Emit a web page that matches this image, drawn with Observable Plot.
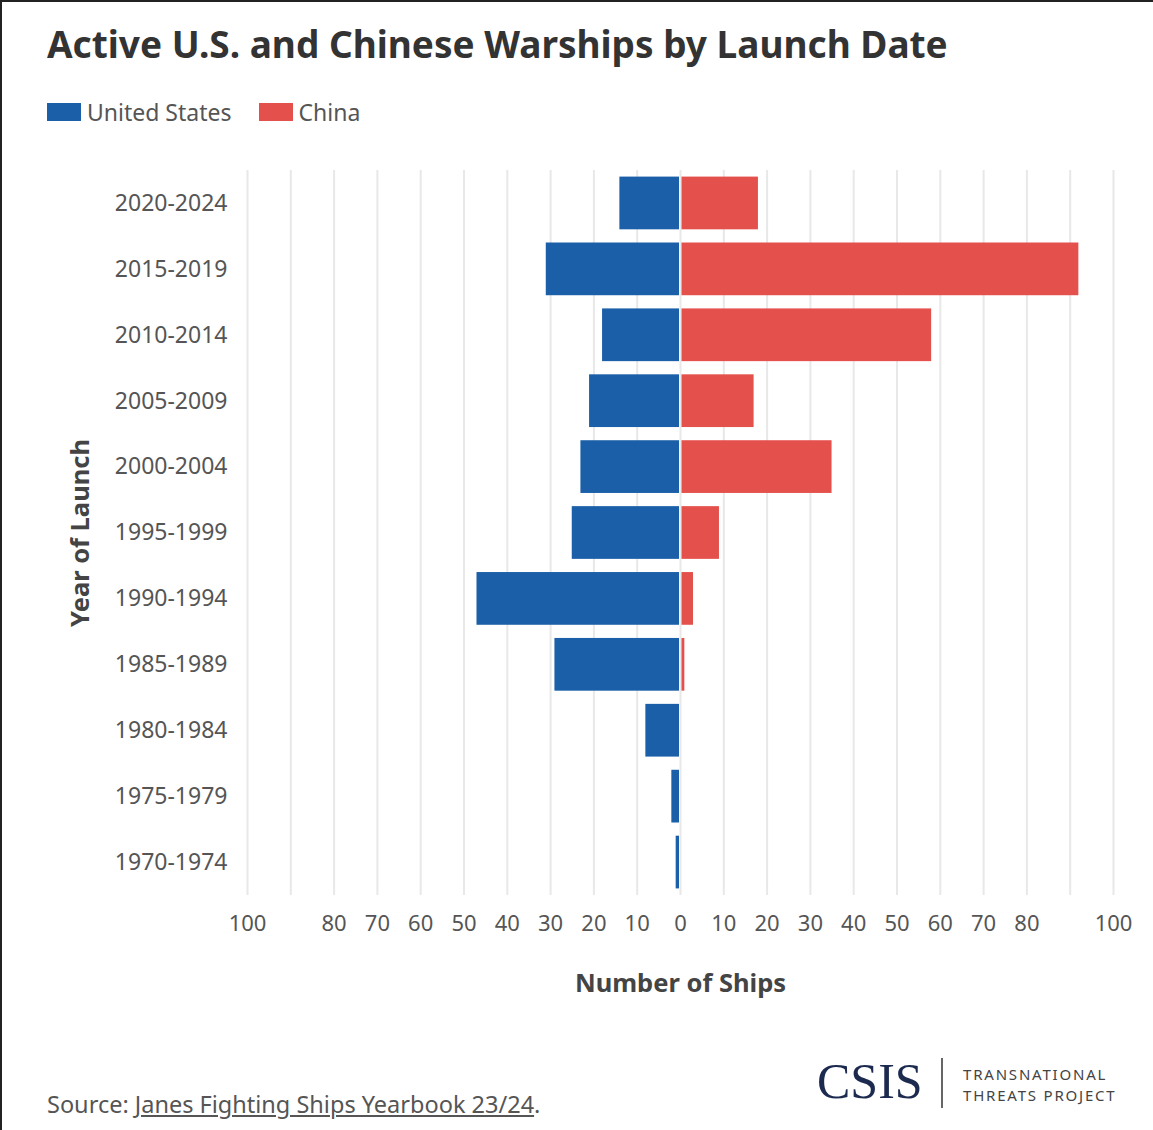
<!DOCTYPE html>
<html><head><meta charset="utf-8">
<script src="https://cdn.jsdelivr.net/npm/d3@7"></script>
<script src="https://cdn.jsdelivr.net/npm/@observablehq/plot@0.6"></script>
<style>
body{margin:0;background:#fff;}
#page{position:relative;width:1153px;height:1130px;overflow:hidden;font-family:"Noto Sans",sans-serif;background:#fff;}
.bt{position:absolute;left:0;top:0;width:1153px;height:2px;background:#222;}
.bl{position:absolute;left:0;top:0;width:2px;height:1130px;background:#222;}
#title{position:absolute;left:47px;top:18px;font-size:37px;font-weight:700;color:#333;white-space:nowrap;}
#legend{position:absolute;left:47px;top:96px;font-size:23px;color:#555;display:flex;align-items:center;white-space:nowrap;}
.sw{display:inline-block;width:34px;height:18px;margin-right:6px;}
.item{display:flex;align-items:center;margin-right:27px;}
#chart{position:absolute;left:0;top:150px;}
#source{position:absolute;left:47px;top:1088px;font-size:23.5px;color:#555;white-space:nowrap;}
#source a{color:#555;text-decoration:underline;}
#csis{position:absolute;left:817px;top:1052px;font-family:"Liberation Serif",serif;font-size:50px;color:#1d2a50;}
#bar{position:absolute;left:941px;top:1058px;width:2px;height:50px;background:#666;}
#ttp{position:absolute;left:963px;top:1064px;font-size:15px;letter-spacing:1.8px;line-height:21px;color:#444;white-space:nowrap;}
</style></head><body>
<div id="page">
<div class="bt"></div><div class="bl"></div>
<div id="title">Active U.S. and Chinese Warships by Launch Date</div>
<div id="legend"></div>
<div id="chart"></div>
<div id="source">Source: <a>Janes Fighting Ships Yearbook 23/24</a>.</div>
<div id="csis">CSIS</div><div id="bar"></div>
<div id="ttp">TRANSNATIONAL<br>THREATS PROJECT</div>
</div>
<script>
const periods = ["2020-2024","2015-2019","2010-2014","2005-2009","2000-2004","1995-1999","1990-1994","1985-1989","1980-1984","1975-1979","1970-1974"];
const usShips = [14, 31, 18, 21, 23, 25, 47, 29, 8, 2, 1];
const chinaShips = [18, 92, 58, 17, 35, 9, 3, 1, 0, 0, 0];
const seriesNames = ["United States", "China"];
const seriesColors = ["#1a5fa8", "#e4514d"];
const gridValues = [-100,-90,-80,-70,-60,-50,-40,-30,-20,-10,0,10,20,30,40,50,60,70,80,90,100];
const xTickValues = [-100,-80,-70,-60,-50,-40,-30,-20,-10,0,10,20,30,40,50,60,70,80,100];
const xLabel = "Number of Ships";
const yLabel = "Year of Launch";

const legend = document.getElementById("legend");
seriesNames.forEach((n, i) => {
  const it = document.createElement("span"); it.className = "item";
  const sw = document.createElement("span"); sw.className = "sw"; sw.style.background = seriesColors[i];
  it.appendChild(sw); it.appendChild(document.createTextNode(n));
  legend.appendChild(it);
});

const us = periods.map((p, i) => ({period: p, country: seriesNames[0], value: -usShips[i]})).filter(d => d.value !== 0);
const cn = periods.map((p, i) => ({period: p, country: seriesNames[1], value: chinaShips[i]})).filter(d => d.value !== 0);

const chart = Plot.plot({
  width: 1153, height: 860,
  marginTop: 20, marginBottom: 115, marginLeft: 247, marginRight: 40,
  style: {fontFamily: "Noto Sans", fontSize: "23px", color: "#555", background: "transparent"},
  x: {domain: [-100, 100]},
  y: {domain: periods, paddingInner: 0.2, paddingOuter: 0.1, round: false},
  color: {domain: seriesNames, range: seriesColors},
  marks: [
    Plot.ruleX(gridValues, {stroke: "#e8e8e8", strokeWidth: 2}),
    Plot.barX(us, {x1: 0, x2: "value", y: "period", fill: "country", insetRight: 1}),
    Plot.barX(cn, {x1: 0, x2: "value", y: "period", fill: "country", insetLeft: 1.5}),
    Plot.axisY({tickSize: 0, tickPadding: 20, label: null}),
    Plot.axisX({ticks: xTickValues, tickFormat: d => Math.abs(d), tickSize: 0, tickPadding: 20, label: null, fontSize: 22}),
    Plot.text([xLabel], {text: d => d, frameAnchor: "bottom", dy: 96, fontWeight: "bold", fontSize: 25.5, fill: "#444"}),
    Plot.text([yLabel], {text: d => d, frameAnchor: "left", textAnchor: "middle", dx: -167, rotate: -90, fontWeight: "bold", fontSize: 25.5, fill: "#444"})
  ]
});
document.getElementById("chart").appendChild(chart);
</script>
</body></html>
